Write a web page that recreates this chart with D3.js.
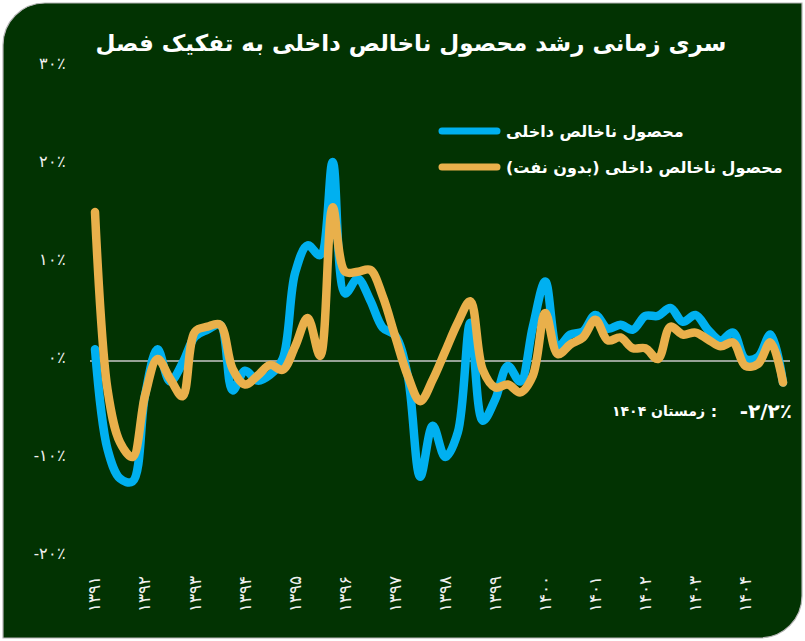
<!DOCTYPE html>
<html lang="fa">
<head>
<meta charset="utf-8" />
<title>GDP growth</title>
<style>
  body { margin: 0; background: #fff; }
  svg { display: block; font-family: "DejaVu Sans", sans-serif; }
  .tick text { fill: #f0f0f0; }
</style>
<script src="https://cdn.jsdelivr.net/npm/d3@7"></script>
</head>
<body>
<div id="chart"></div>
<script>
// year labels (first quarter of each year)
var years = ["۱۳۹۱","۱۳۹۲","۱۳۹۳","۱۳۹۴","۱۳۹۵","۱۳۹۶","۱۳۹۷","۱۳۹۸","۱۳۹۹","۱۴۰۰","۱۴۰۱","۱۴۰۲","۱۴۰۳","۱۴۰۴"];
var yTicks = [-20, -10, 0, 10, 20, 30];
var yTickLabels = ["-۲۰٪","-۱۰٪","۰٪","۱۰٪","۲۰٪","۳۰٪"];

// quarterly growth, 1391 Q1 .. 1404 Q4
var gdp = [1.2, -9.0, -12.0, -12.3, -3.5, 1.2, -2.1, -0.2, 2.5, 3.2, 3.7, -3.0, -1.0, -2.0,
  -1.4, 0.2, 9.0, 11.8, 10.8, 20.3, 6.9, 8.4, 6.2, 3.4, 2.6, -1.5, -11.8, -6.6, -9.8, -7.3,
  3.9, -6.1, -3.9, -0.5, -2.1, 3.5, 8.1, 1.5, 2.7, 3.0, 4.7, 3.3, 3.7, 3.2, 4.6, 4.6, 5.4,
  4.0, 4.7, 3.2, 2.1, 2.9, 0.2, 0.4, 2.7, -2.2];
var gdpNoOil = [15.2, -2.9, -8.3, -9.8, -3.5, 0.2, -1.8, -3.6, 3.0, 3.5, 3.7, -0.8, -2.4, -1.5,
  -0.4, -0.9, 1.5, 4.4, 0.5, 15.7, 9.1, 9.1, 9.3, 6.6, 2.5, -1.5, -4.1, -1.9, 1.0, 3.9,
  6.1, -0.9, -2.7, -2.4, -3.2, -1.5, 4.9, 0.7, 1.7, 2.4, 4.2, 2.1, 2.4, 1.3, 1.3, 0.2, 3.5,
  2.7, 2.9, 2.2, 1.5, 1.9, -0.5, -0.3, 1.9, -2.2];

var seriesNames = ["محصول ناخالص داخلی", "محصول ناخالص داخلی (بدون نفت)\u200F"];
var seriesColors = ["#00b0f0", "#e9b04b"];
var title = "سری زمانی رشد محصول ناخالص داخلی به تفکیک فصل";

var W = 805, H = 641;
var svg = d3.select("#chart").append("svg")
    .attr("width", W)
    .attr("height", H);

// background with two rounded corners
var r = 42, x0 = 3, y0 = 3, x1 = 802, y1 = 638;
svg.append("path")
    .attr("d", "M" + x0 + "," + (y0 + r) +
      " A" + r + "," + r + " 0 0 1 " + (x0 + r) + "," + y0 +
      " L" + x1 + "," + y0 +
      " L" + x1 + "," + (y1 - r) +
      " A" + r + "," + r + " 0 0 1 " + (x1 - r) + "," + y1 +
      " L" + x0 + "," + y1 + " Z")
    .attr("fill", "#023302")
    .attr("stroke", "#b5b5b5")
    .attr("stroke-width", 1.2);

var x = d3.scaleLinear().domain([0, gdp.length - 1]).range([95, 783]);
var y = d3.scaleLinear().domain([-20, 30]).range([557, 67]);

// title
svg.append("text")
    .attr("x", 411)
    .attr("y", 43)
    .attr("dy", "0.35em")
    .attr("text-anchor", "middle")
    .attr("fill", "#fff")
    .style("font-weight", "bold")
    .style("font-size", "23px")
    .text(title);

// y axis labels
var yAxis = svg.append("g")
    .attr("transform", "translate(90,0)")
    .call(d3.axisLeft(y).tickValues(yTicks).tickSize(0).tickPadding(24)
      .tickFormat(function(d, i) { return yTickLabels[i]; }));
yAxis.select(".domain").remove();
yAxis.selectAll("text")
    .attr("dy", "0.1em")
    .style("font-size", "16px");

// x axis labels, rotated
var xAxis = svg.append("g")
    .attr("transform", "translate(0,575)")
    .call(d3.axisBottom(x).tickValues(d3.range(0, gdp.length, 4)).tickSize(0)
      .tickFormat(function(d) { return years[d / 4]; }));
xAxis.select(".domain").remove();
xAxis.selectAll("text")
    .attr("transform", "rotate(-90)")
    .attr("x", -19)
    .attr("y", -1)
    .attr("dy", "0.35em")
    .style("text-anchor", "middle")
    .style("font-size", "17px");

// zero line
svg.append("line")
    .attr("x1", 90).attr("x2", 790)
    .attr("y1", y(0)).attr("y2", y(0))
    .attr("stroke", "#c8c8c8")
    .attr("stroke-width", 1.6);

var line = d3.line()
    .x(function(d, i) { return x(i); })
    .y(function(d) { return y(d); })
    .curve(d3.curveCatmullRom.alpha(0.5));

[gdp, gdpNoOil].forEach(function(s, k) {
  svg.append("path")
      .datum(s)
      .attr("fill", "none")
      .attr("stroke", seriesColors[k])
      .attr("stroke-width", 8.5)
      .attr("stroke-linecap", "round")
      .attr("stroke-linejoin", "round")
      .attr("d", line);
});

// legend
var legend = svg.append("g");
seriesNames.forEach(function(name, k) {
  var ly = 131 + k * 36;
  legend.append("line")
      .attr("x1", 442).attr("x2", 497)
      .attr("y1", ly).attr("y2", ly)
      .attr("stroke", seriesColors[k])
      .attr("stroke-width", 7)
      .attr("stroke-linecap", "round");
  legend.append("text")
      .attr("x", 506)
      .attr("y", ly)
      .attr("dy", "0.35em")
      .attr("fill", "#fff")
      .style("font-weight", "bold")
      .style("font-size", "16px")
      .text(name);
});

// note for last quarter
var note = svg.append("g")
    .attr("fill", "#fff")
    .style("font-weight", "bold");
note.append("text")
    .attr("x", 792).attr("y", 411).attr("dy", "0.35em")
    .attr("text-anchor", "end")
    .style("font-size", "20px")
    .text("-۲/۲٪");
note.append("text")
    .attr("x", 714).attr("y", 411).attr("dy", "0.35em")
    .attr("text-anchor", "middle")
    .style("font-size", "16px")
    .text(":");
note.append("text")
    .attr("x", 705).attr("y", 411).attr("dy", "0.35em")
    .attr("text-anchor", "end")
    .style("font-size", "14px")
    .text("زمستان ۱۴۰۴");
</script>
</body>
</html>
